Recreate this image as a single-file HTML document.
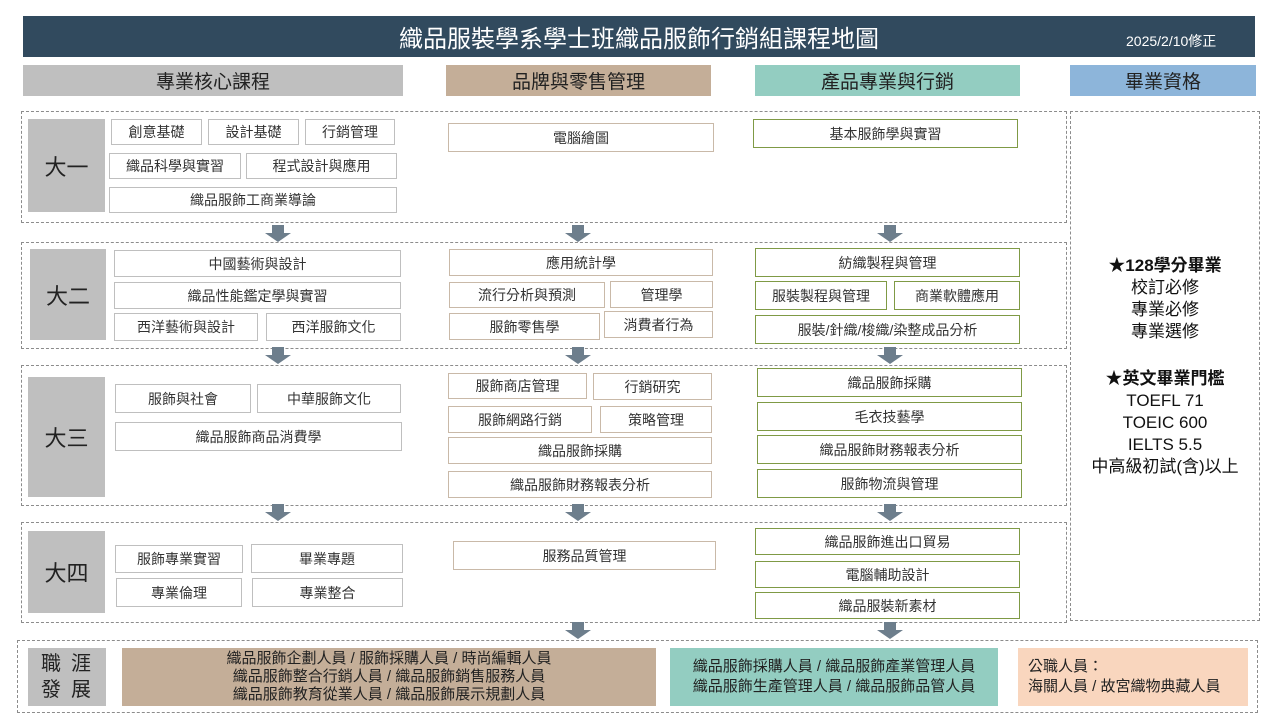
<!DOCTYPE html>
<html><head><meta charset="utf-8"><style>
body{margin:0;width:1280px;height:720px;background:#fff;position:relative;overflow:hidden;font-family:"Liberation Sans","Noto Sans CJK TC",sans-serif;color:#333}
div{box-sizing:border-box}
.a{position:absolute}
.b{position:absolute;display:flex;align-items:center;justify-content:center;font-size:14px;background:#fff;border:1px solid #bfbfbf;white-space:nowrap}
.m{border-color:#c9b9a8}
.r{border-color:#7f9a45}
.d{position:absolute;border:1px dashed #8c8c8c}
.y{position:absolute;background:#bfbfbf;display:flex;align-items:center;justify-content:center;font-size:22px;color:#222}
.h{position:absolute;display:flex;align-items:center;justify-content:center;font-size:19px;color:#222;top:65px;height:31px}
</style></head><body>
<div class="a" style="left:23px;top:16px;width:1232px;height:41px;background:#314a5e;color:#fff;display:flex;align-items:center;justify-content:center;font-size:24px">織品服裝學系學士班織品服飾行銷組課程地圖</div>
<div class="a" style="left:1126px;top:31px;color:#fff;font-size:14px">2025/2/10修正</div>

<div class="h" style="left:23px;width:380px;background:#bfbfbf">專業核心課程</div>
<div class="h" style="left:446px;width:265px;background:#c4ae98">品牌與零售管理</div>
<div class="h" style="left:755px;width:265px;background:#93cdc1">產品專業與行銷</div>
<div class="h" style="left:1070px;width:186px;background:#8db5da">畢業資格</div>

<div class="d" style="left:21px;top:111px;width:1046px;height:112px"></div>
<div class="d" style="left:21px;top:242px;width:1046px;height:107px"></div>
<div class="d" style="left:21px;top:365px;width:1046px;height:141px"></div>
<div class="d" style="left:21px;top:522px;width:1046px;height:101px"></div>
<div class="d" style="left:1070px;top:111px;width:190px;height:510px"></div>
<div class="d" style="left:17px;top:640px;width:1241px;height:73px"></div>

<div class="y" style="left:28px;top:119px;width:77px;height:93px">大一</div>
<div class="y" style="left:30px;top:249px;width:76px;height:91px">大二</div>
<div class="y" style="left:28px;top:377px;width:77px;height:120px">大三</div>
<div class="y" style="left:28px;top:531px;width:77px;height:82px">大四</div>
<div class="y" style="left:28px;top:648px;width:78px;height:58px;font-size:20px;line-height:26px;letter-spacing:10px;text-align:center;padding-left:8px">職涯<br>發展</div>

<div class="b" style="left:111px;top:119px;width:91px;height:26px">創意基礎</div>
<div class="b" style="left:208px;top:119px;width:91px;height:26px">設計基礎</div>
<div class="b" style="left:305px;top:119px;width:90px;height:26px">行銷管理</div>
<div class="b" style="left:109px;top:153px;width:132px;height:26px">織品科學與實習</div>
<div class="b" style="left:246px;top:153px;width:151px;height:26px">程式設計與應用</div>
<div class="b" style="left:109px;top:187px;width:288px;height:26px">織品服飾工商業導論</div>
<div class="b m" style="left:448px;top:123px;width:266px;height:29px">電腦繪圖</div>
<div class="b r" style="left:753px;top:119px;width:265px;height:29px">基本服飾學與實習</div>

<div class="b" style="left:114px;top:250px;width:287px;height:27px">中國藝術與設計</div>
<div class="b" style="left:114px;top:282px;width:287px;height:27px">織品性能鑑定學與實習</div>
<div class="b" style="left:114px;top:313px;width:144px;height:28px">西洋藝術與設計</div>
<div class="b" style="left:266px;top:313px;width:135px;height:28px">西洋服飾文化</div>
<div class="b m" style="left:449px;top:249px;width:264px;height:27px">應用統計學</div>
<div class="b m" style="left:449px;top:282px;width:156px;height:26px">流行分析與預測</div>
<div class="b m" style="left:610px;top:281px;width:103px;height:27px">管理學</div>
<div class="b m" style="left:449px;top:313px;width:151px;height:27px">服飾零售學</div>
<div class="b m" style="left:604px;top:311px;width:109px;height:27px">消費者行為</div>
<div class="b r" style="left:755px;top:248px;width:265px;height:29px">紡織製程與管理</div>
<div class="b r" style="left:755px;top:281px;width:132px;height:29px">服裝製程與管理</div>
<div class="b r" style="left:894px;top:281px;width:126px;height:29px">商業軟體應用</div>
<div class="b r" style="left:755px;top:315px;width:265px;height:29px">服裝/針織/梭織/染整成品分析</div>

<div class="b" style="left:115px;top:384px;width:136px;height:29px">服飾與社會</div>
<div class="b" style="left:257px;top:384px;width:144px;height:29px">中華服飾文化</div>
<div class="b" style="left:115px;top:422px;width:287px;height:29px">織品服飾商品消費學</div>
<div class="b m" style="left:448px;top:373px;width:139px;height:26px">服飾商店管理</div>
<div class="b m" style="left:593px;top:373px;width:119px;height:27px">行銷研究</div>
<div class="b m" style="left:448px;top:406px;width:144px;height:27px">服飾網路行銷</div>
<div class="b m" style="left:600px;top:406px;width:112px;height:27px">策略管理</div>
<div class="b m" style="left:448px;top:437px;width:264px;height:27px">織品服飾採購</div>
<div class="b m" style="left:448px;top:471px;width:264px;height:27px">織品服飾財務報表分析</div>
<div class="b r" style="left:757px;top:368px;width:265px;height:29px">織品服飾採購</div>
<div class="b r" style="left:757px;top:402px;width:265px;height:29px">毛衣技藝學</div>
<div class="b r" style="left:757px;top:435px;width:265px;height:29px">織品服飾財務報表分析</div>
<div class="b r" style="left:757px;top:469px;width:265px;height:29px">服飾物流與管理</div>

<div class="b" style="left:115px;top:545px;width:128px;height:28px">服飾專業實習</div>
<div class="b" style="left:251px;top:544px;width:152px;height:29px">畢業專題</div>
<div class="b" style="left:116px;top:578px;width:126px;height:29px">專業倫理</div>
<div class="b" style="left:252px;top:578px;width:151px;height:29px">專業整合</div>
<div class="b m" style="left:453px;top:541px;width:263px;height:29px">服務品質管理</div>
<div class="b r" style="left:755px;top:528px;width:265px;height:27px">織品服飾進出口貿易</div>
<div class="b r" style="left:755px;top:561px;width:265px;height:27px">電腦輔助設計</div>
<div class="b r" style="left:755px;top:592px;width:265px;height:27px">織品服裝新素材</div>

<div class="a" style="left:1070px;top:255px;width:190px;text-align:center;font-size:17px;line-height:22px;color:#111"><b>★128學分畢業</b><br>校訂必修<br>專業必修<br>專業選修<br><div style="height:25px"></div><b>★英文畢業門檻</b><br>TOEFL 71<br>TOEIC 600<br>IELTS 5.5<br>中高級初試(含)以上</div>

<div class="a" style="left:122px;top:648px;width:534px;height:58px;background:#c4ae98;display:flex;align-items:center;justify-content:center;text-align:center;font-size:15px;line-height:18px;color:#222">織品服飾企劃人員 / 服飾採購人員 / 時尚編輯人員<br>織品服飾整合行銷人員 / 織品服飾銷售服務人員<br>織品服飾教育從業人員 / 織品服飾展示規劃人員</div>
<div class="a" style="left:670px;top:648px;width:328px;height:58px;background:#93cdc1;display:flex;align-items:center;justify-content:center;text-align:center;font-size:15px;line-height:20px;color:#222">織品服飾採購人員 / 織品服飾產業管理人員<br>織品服飾生產管理人員 / 織品服飾品管人員</div>
<div class="a" style="left:1018px;top:648px;width:230px;height:58px;background:#f9d6be;display:flex;align-items:center;padding-left:10px;font-size:15px;line-height:20px;color:#222">公職人員：<br>海關人員 / 故宮織物典藏人員</div>

<svg class="a" style="left:0;top:0" width="1280" height="720">
<defs><path id="ar" d="M-6,0 H6 V8 H13 L0,17 L-13,8 H-6 Z" fill="#6d7e8c"/></defs>
<use href="#ar" x="278" y="225"/><use href="#ar" x="578" y="225"/><use href="#ar" x="890" y="225"/>
<use href="#ar" x="278" y="347"/><use href="#ar" x="578" y="347"/><use href="#ar" x="890" y="347"/>
<use href="#ar" x="278" y="504"/><use href="#ar" x="578" y="504"/><use href="#ar" x="890" y="504"/>
<use href="#ar" x="578" y="622"/><use href="#ar" x="890" y="622"/>
</svg>
</body></html>
